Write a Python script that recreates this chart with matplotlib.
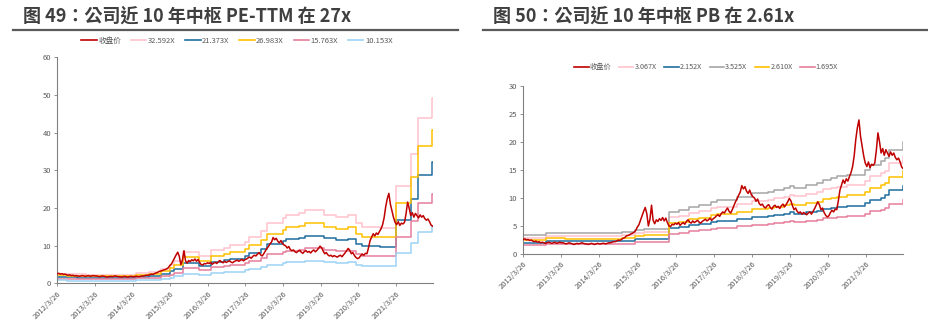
import numpy as np
import pandas as pd
import matplotlib
matplotlib.use("Agg")
import matplotlib.pyplot as plt
from matplotlib.lines import Line2D

plt.rcParams['font.family'] = ['Noto Sans CJK SC', 'DejaVu Sans']

start, end = '2012-03-26', '2022-03-18'

# 收盘价, twice a month
close = [2.6,
    2.7, 2.5, 2.6, 2.4, 2.5, 2.3, 2.2, 2.3, 2.1, 2.2, 2.0, 2.1, 2.0, 1.9, 2.0, 2.1, 2.0, 1.9, 2.0, 2.1, 1.9, 2.0, 2.1, 2.0,
    2.0, 1.9, 1.8, 1.9, 2.0, 1.9, 1.8, 1.7, 1.8, 1.9, 1.8, 1.9, 2.0, 1.9, 1.8, 1.8, 1.7, 1.8, 1.9, 1.8, 1.7, 1.8, 1.9, 1.8,
    1.8, 1.9, 1.9, 1.8, 1.9, 2.0, 2.0, 2.1, 2.2, 2.2, 2.3, 2.5, 2.4, 2.6, 2.8, 2.9, 3.2, 3.3, 3.4, 3.6, 3.7, 3.9, 4.2, 4.8,
    5.2, 6.0, 6.8, 7.6, 8.3, 7.2, 5.0, 6.2, 8.7, 6.0, 5.4, 6.1, 5.8, 6.3, 6.0, 6.5, 5.9, 6.4, 5.6, 5.0, 4.9, 5.3, 5.2, 5.5,
    5.3, 5.6, 5.1, 5.4, 5.6, 5.3, 5.8, 6.1, 5.7, 5.5, 5.9, 5.6, 5.8, 6.0, 5.7, 5.5, 5.8, 6.0, 6.2, 5.9, 6.1, 6.4, 6.0, 6.3,
    6.5, 6.8, 7.0, 6.7, 7.2, 7.5, 7.3, 7.8, 8.2, 7.6, 7.3, 7.9, 8.6, 9.3, 9.8, 10.5, 11.0, 12.2, 11.6, 12.0, 11.2, 10.8, 11.4, 10.6,
    10.2, 10.0, 9.4, 9.8, 9.0, 8.7, 8.9, 8.4, 8.2, 8.6, 8.8, 8.3, 8.0, 8.5, 8.7, 8.3, 8.5, 8.1, 8.6, 8.9, 8.4, 8.8, 9.3, 9.9,
    9.5, 8.6, 7.9, 8.2, 7.6, 7.3, 7.5, 7.1, 7.4, 7.2, 7.0, 7.3, 7.5, 7.1, 7.6, 8.1, 8.7, 9.3, 8.8, 7.9, 8.2, 7.4, 6.9, 6.6,
    6.8, 7.4, 7.8, 7.5, 8.0, 7.9, 9.5, 11.4, 12.3, 13.2, 12.6, 13.4, 13.0, 13.8, 14.5, 15.6, 17.5, 20.4, 22.5, 23.9, 21.0, 19.2, 17.5, 16.2,
    15.6, 16.4, 15.4, 16.0, 15.8, 16.2, 18.5, 21.6, 20.0, 18.0, 18.8, 17.6, 18.6, 18.0, 17.4, 18.2, 17.6, 18.0, 17.2, 16.8, 17.1, 16.4, 15.5, 15.2]

# EPS (TTM) steps behind the PE bands
eps_dates = ['2012-03-26', '2012-07-01', '2012-10-01', '2013-01-01', '2013-04-01', '2014-05-01',
             '2014-09-01', '2015-01-01', '2015-03-26', '2015-05-01', '2015-08-01', '2016-01-01',
             '2016-04-26', '2016-08-26', '2016-10-26', '2017-03-26', '2017-04-26', '2017-08-26',
             '2017-10-26', '2018-03-26', '2018-04-26', '2018-08-26', '2018-10-26', '2019-04-26',
             '2019-08-26', '2019-12-20', '2020-03-01', '2020-05-01', '2020-10-26', '2021-03-28',
             '2021-08-18', '2021-10-23', '2022-03-10']
eps = [0.080, 0.078, 0.074, 0.072, 0.070, 0.085,
       0.095, 0.120, 0.150, 0.185, 0.260, 0.220,
       0.270, 0.290, 0.310, 0.340, 0.380, 0.430,
       0.490, 0.530, 0.555, 0.570, 0.595, 0.560,
       0.540, 0.555, 0.490, 0.460, 0.455, 0.790,
       1.050, 1.350, 1.510]
pe_mult = [32.592, 21.373, 26.983, 15.763, 10.153]
pe_cols = ['#FFC2CB', '#1F6E9E', '#FFC000', '#E67F9B', '#9DD3F5']

# BVPS steps behind the PB bands
bvps_dates = ['2012-03-26', '2012-11-01', '2013-04-26', '2014-10-26', '2015-02-26', '2015-05-26',
              '2016-01-20', '2016-05-01', '2016-08-01', '2016-11-01', '2017-03-01', '2017-05-01',
              '2017-11-01', '2018-03-26', '2018-08-26', '2018-10-26', '2019-01-26', '2019-03-26',
              '2019-05-01', '2019-08-26', '2019-12-10', '2020-02-10', '2020-04-20', '2020-06-20',
              '2020-09-20', '2021-03-20', '2021-05-01', '2021-08-20', '2021-09-20', '2021-11-01',
              '2022-03-12']
bvps = [0.95, 1.07, 1.04, 1.10, 1.22, 1.27,
        2.14, 2.21, 2.40, 2.48, 2.65, 2.73,
        2.90, 3.07, 3.16, 3.24, 3.33, 3.44,
        3.35, 3.49, 3.58, 3.75, 3.83, 3.92,
        4.00, 4.25, 4.51, 4.68, 4.85, 5.27,
        5.65]
pb_mult = [3.067, 2.152, 3.525, 2.610, 1.695]
pb_cols = ['#FFC2CB', '#1F6E9E', '#A6A6A6', '#FFC000', '#E67F9B']

red = '#C00000'
grey = '#595959'
dates = pd.date_range(start, end, periods=len(close))
years = range(2012, 2022)


def draw_panel(ax, step_dates, base, mults, cols, ymax, ystep):
    x = pd.to_datetime(step_dates + [end])
    handles = [Line2D([], [], color=red, lw=1.2)]
    labels = ['收盘价']
    for m, c in zip(mults, cols):
        y = np.array(base + [base[-1]]) * m
        ax.step(x, y, where='post', color=c, lw=1.1)
        handles.append(Line2D([], [], color=c, lw=1.2))
        labels.append(f'{m:.3f}X')
    ax.plot(dates, close, color=red, lw=1.1, zorder=5)
    ax.set_xlim(pd.Timestamp(start), pd.Timestamp(end))
    ax.set_ylim(0, ymax)
    ax.set_yticks(np.arange(0, ymax + 1, ystep))
    ax.set_xticks(pd.to_datetime([f'{y}-03-26' for y in years]))
    ax.set_xticklabels([f'{y}/3/26' for y in years], rotation=45, ha='right',
                       rotation_mode='anchor')
    for s in ['top', 'right']:
        ax.spines[s].set_visible(False)
    for s in ['left', 'bottom']:
        ax.spines[s].set_color('#808080')
        ax.spines[s].set_linewidth(0.8)
    ax.tick_params(labelsize=5.5, colors=grey, length=2.5, width=0.6, pad=2)
    ax.tick_params(color='#808080')
    return handles, labels


fig = plt.figure(figsize=(9.29, 3.23), dpi=100)

ax1 = fig.add_axes([0.0617, 0.1223, 0.404, 0.7003])
h, l = draw_panel(ax1, eps_dates, eps, pe_mult, pe_cols, 60, 10)
fig.legend(h, l, loc='center', bbox_to_anchor=(0.255, 0.873), ncol=6, frameon=False,
           fontsize=5.5, handlelength=2.0, handletextpad=0.2, columnspacing=1.3,
           labelcolor=grey)

ax2 = fig.add_axes([0.5633, 0.2136, 0.409, 0.521])
h, l = draw_panel(ax2, bvps_dates, bvps, pb_mult, pb_cols, 30, 5)
fig.legend(h, l, loc='center', bbox_to_anchor=(0.76, 0.792), ncol=6, frameon=False,
           fontsize=5.2, handlelength=2.0, handletextpad=0.15, columnspacing=1.05,
           labelcolor=grey)

# titles with rule underneath
title_font = ['Noto Sans CJK TC', 'DejaVu Sans']
fig.text(23 / 929, 1 - 16 / 323, '图 49：公司近 10 年中枢 PE-TTM 在 27x', fontsize=13,
         fontweight='bold', color='#3F3F3F', va='center', ha='left', family=title_font)
fig.text(493 / 929, 1 - 16 / 323, '图 50：公司近 10 年中枢 PB 在 2.61x', fontsize=13,
         fontweight='bold', color='#3F3F3F', va='center', ha='left', family=title_font)
for x0, x1 in [(13, 458), (483, 927)]:
    fig.add_artist(Line2D([x0 / 929, x1 / 929], [1 - 29.5 / 323] * 2,
                          transform=fig.transFigure, color='#5A5A5A', lw=1.6))

fig.savefig('out.png', dpi=100)
